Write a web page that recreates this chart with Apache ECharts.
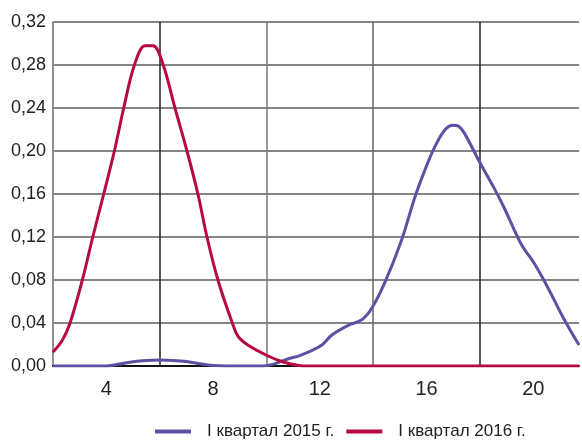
<!DOCTYPE html>
<html>
<head>
<meta charset="utf-8">
<script src="https://cdn.jsdelivr.net/npm/echarts@6/dist/echarts.min.js"></script>
<style>
html,body{margin:0;padding:0;background:#fff;}
#chart{width:582px;height:445px;}
</style>
</head>
<body>
<div id="chart"></div>
<script>
var seriesNames = ['I квартал 2015 г.', 'I квартал 2016 г.'];
var yTicks = [0, 0.04, 0.08, 0.12, 0.16, 0.20, 0.24, 0.28, 0.32];
var xLabelValues = [4, 8, 12, 16, 20];

var x2015 = [2, 4, 4.5, 5, 5.5, 6, 6.5, 7, 7.5, 8, 8.5, 9.9, 10.3, 10.85, 11.22, 11.75, 12.1, 12.46, 13.08, 13.57, 13.95, 14.44, 15.06, 15.56, 15.93, 16.31, 16.68, 16.99, 17.2, 17.42, 17.98, 18.54, 18.91, 19.53, 20.03, 20.52, 21.14, 21.71];
var y2015 = [0, 0, 0.0018, 0.0040, 0.0052, 0.0056, 0.0052, 0.0041, 0.0020, 0.0004, 0, 0, 0.002, 0.007, 0.0095, 0.015, 0.020, 0.029, 0.038, 0.043, 0.054, 0.078, 0.117, 0.157, 0.182, 0.204, 0.2195, 0.224, 0.223, 0.2164, 0.190, 0.165, 0.147, 0.114, 0.0955, 0.074, 0.044, 0.0195];

var x2016 = [2, 2.35, 2.64, 3.1, 3.49, 3.9, 4.3, 4.65, 5.05, 5.45, 5.75, 6.13, 6.57, 7.02, 7.43, 7.77, 8.18, 8.72, 8.95, 9.3, 10.0, 10.6, 11.2, 11.6, 21.71];
var y2016 = [0.013, 0.024, 0.040, 0.080, 0.120, 0.160, 0.200, 0.240, 0.280, 0.298, 0.298, 0.280, 0.240, 0.200, 0.160, 0.120, 0.080, 0.040, 0.027, 0.0195, 0.010, 0.004, 0.0005, 0, 0];

function zip(xs, ys){ return xs.map(function(x,i){ return [x, ys[i]]; }); }

var FONT = '"Liberation Sans Narrow", "Liberation Sans", "DejaVu Sans", sans-serif';
var chart = echarts.init(document.getElementById('chart'), null, {renderer:'canvas'});
chart.setOption({
  animation: false,
  backgroundColor: '#fff',
  grid: {left: 53, right: 0, top: 22, bottom: 79, containLabel: false},
  legend: {
    left: 150, top: 418,
    itemWidth: 36, itemHeight: 4, itemGap: 12,
    icon: 'rect',
    textStyle: {fontFamily: FONT, fontSize: 17, color: '#222', padding: [0,0,0,11]},
    data: seriesNames
  },
  xAxis: [{
    type: 'value', min: 2, max: 21.71, interval: 2,
    axisLine: {show: true, onZero: false, lineStyle: {color: '#111', width: 2}},
    axisTick: {show: false},
    splitLine: {show: false},
    axisLabel: {
      margin: 13, fontFamily: FONT, fontSize: 20, color: '#222',
      formatter: function(v){ return xLabelValues.indexOf(v) >= 0 ? String(v) : ''; }
    }
  }, {
    type: 'value', min: 2, max: 21.71, interval: 4, position: 'bottom',
    axisLine: {show: false}, axisTick: {show: false}, axisLabel: {show: false},
    splitLine: {show: true, lineStyle: {color: ['#888', '#222', '#777', '#666', '#222', 'rgba(0,0,0,0)'], width: 1.5}}
  }],
  yAxis: {
    type: 'value', min: 0, max: 0.32, interval: 0.04,
    axisLine: {show: true, lineStyle: {color: '#888', width: 1.5}},
    axisTick: {show: false},
    splitLine: {show: true, lineStyle: {color: '#858585', width: 2}},
    axisLabel: {
      margin: 7, fontFamily: FONT, fontSize: 18, color: '#222',
      formatter: function(v){
        var t = yTicks.reduce(function(a,b){ return Math.abs(b-v) < Math.abs(a-v) ? b : a; });
        return t.toFixed(2).replace('.', ',');
      }
    }
  },
  series: [{
    name: seriesNames[0], type: 'line', xAxisIndex: 0,
    data: zip(x2015, y2015),
    smooth: 0.35, showSymbol: false, symbol: 'none',
    lineStyle: {color: '#5b52a4', width: 3},
    itemStyle: {color: '#5b52a4'},
    z: 3
  }, {
    name: seriesNames[1], type: 'line', xAxisIndex: 0,
    data: zip(x2016, y2016),
    smooth: 0.35, showSymbol: false, symbol: 'none',
    lineStyle: {color: '#b70a40', width: 3},
    itemStyle: {color: '#b70a40'},
    z: 4
  }]
});
</script>
</body>
</html>
